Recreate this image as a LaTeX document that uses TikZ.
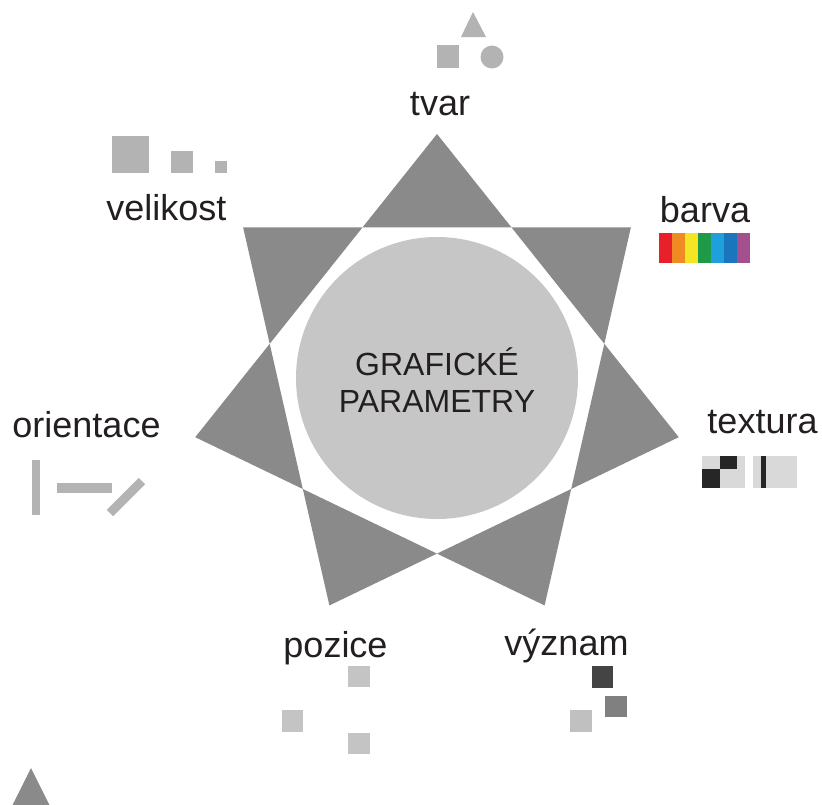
\documentclass[tikz,border=0pt]{standalone}
\usepackage{fontspec}
\setmainfont{Liberation Sans}
\usetikzlibrary{calc}
\definecolor{stargray}{HTML}{8A8A8A}
\definecolor{circgray}{HTML}{C6C6C6}
\definecolor{txt}{HTML}{231F20}
\definecolor{symgray}{HTML}{B3B3B3}
\definecolor{posgray}{HTML}{C4C4C4}
\definecolor{texdark}{HTML}{262626}
\definecolor{texlight}{HTML}{D9D9D9}
\definecolor{vdark}{HTML}{444444}
\definecolor{vmid}{HTML}{808080}
\definecolor{vlight}{HTML}{C0C0C0}
\definecolor{cRed}{HTML}{E8202A}
\definecolor{cOrange}{HTML}{F08A22}
\definecolor{cYellow}{HTML}{F5E625}
\definecolor{cGreen}{HTML}{1E9A48}
\definecolor{cCyan}{HTML}{1FA0DC}
\definecolor{cBlue}{HTML}{1B75BC}
\definecolor{cPurple}{HTML}{A4508E}
\tikzset{
  lbl/.style={inner sep=0pt, anchor=base, text=txt, font=\fontsize{36}{40}\selectfont},
  ctr/.style={inner sep=0pt, anchor=base, text=txt, font=\fontsize{32}{37}\selectfont},
}
\begin{document}
\begin{tikzpicture}[x=1pt,y=-1pt]
\useasboundingbox (0,0) rectangle (822,804);
\begin{scope}
\clip (0,0) rectangle (822,804);
% heptagram {7/2}
\coordinate (C) at (437,382);
\foreach \k in {0,...,6} {
  \coordinate (T\k) at ($(C)+({-90+\k*360/7}:248)$);
}
\fill[stargray, even odd rule] (T0) -- (T2) -- (T4) -- (T6) -- (T1) -- (T3) -- (T5) -- cycle;
% central circle
\node[circle, fill=circgray, minimum size=282pt, inner sep=0pt] (circ) at (437,378) {};
\node[ctr] (g1) at (437,375) {GRAFICKÉ};
\node[ctr] (g2) at (437,412) {PARAMETRY};
% bottom-left partial triangle
\fill[stargray] (31,768) -- (-9,848) -- (71,848) -- cycle;
\end{scope}

% labels
\node[lbl] (tvar) at (440,115) {tvar};
\node[lbl] (velikost) at (166.5,220) {velikost};
\node[lbl] (barva) at (705,222) {barva};
\node[lbl] (orientace) at (86.5,437) {orientace};
\node[lbl] (textura) at (762.5,433) {textura};
\node[lbl] (pozice) at (335.5,657) {pozice};
\node[lbl] (vyznam) at (566.5,655) {význam};

% tvar symbols
\fill[symgray] (473,12) -- (461,37) -- (486,37) -- cycle;
\fill[symgray] (437,45) rectangle (459,68);
\fill[symgray] (492,57) circle (11.5);

% velikost symbols
\fill[symgray] (112,136) rectangle (149,173);
\fill[symgray] (171,151) rectangle (193,173);
\fill[symgray] (215,161) rectangle (227,173);

% barva colour bar
\foreach \c [count=\i from 0] in {cRed,cOrange,cYellow,cGreen,cCyan,cBlue,cPurple} {
  \fill[\c] ({659+\i*13},233) rectangle ({659+(\i+1)*13},263);
}

% orientace symbols
\fill[symgray] (32,460) rectangle (40,515);
\fill[symgray] (57,483) rectangle (112,493);
\draw[symgray, line width=9pt] (110,513) -- (142,481);

% textura symbols
\fill[texlight] (702,456) rectangle (745,488);
\fill[texdark] (720,456) rectangle (737,469);
\fill[texdark] (702,469) rectangle (720,488);
\fill[texlight] (753,456) rectangle (797,488);
\fill[texdark] (761,456) rectangle (766,488);

% pozice symbols
\fill[posgray] (348,666) rectangle (370,687);
\fill[posgray] (282,710) rectangle (303,732);
\fill[posgray] (348,733) rectangle (370,754);

% vyznam symbols
\fill[vdark] (592,666) rectangle (613,688);
\fill[vmid] (605,696) rectangle (627,717);
\fill[vlight] (570,710) rectangle (592,732);
\end{tikzpicture}
\end{document}
